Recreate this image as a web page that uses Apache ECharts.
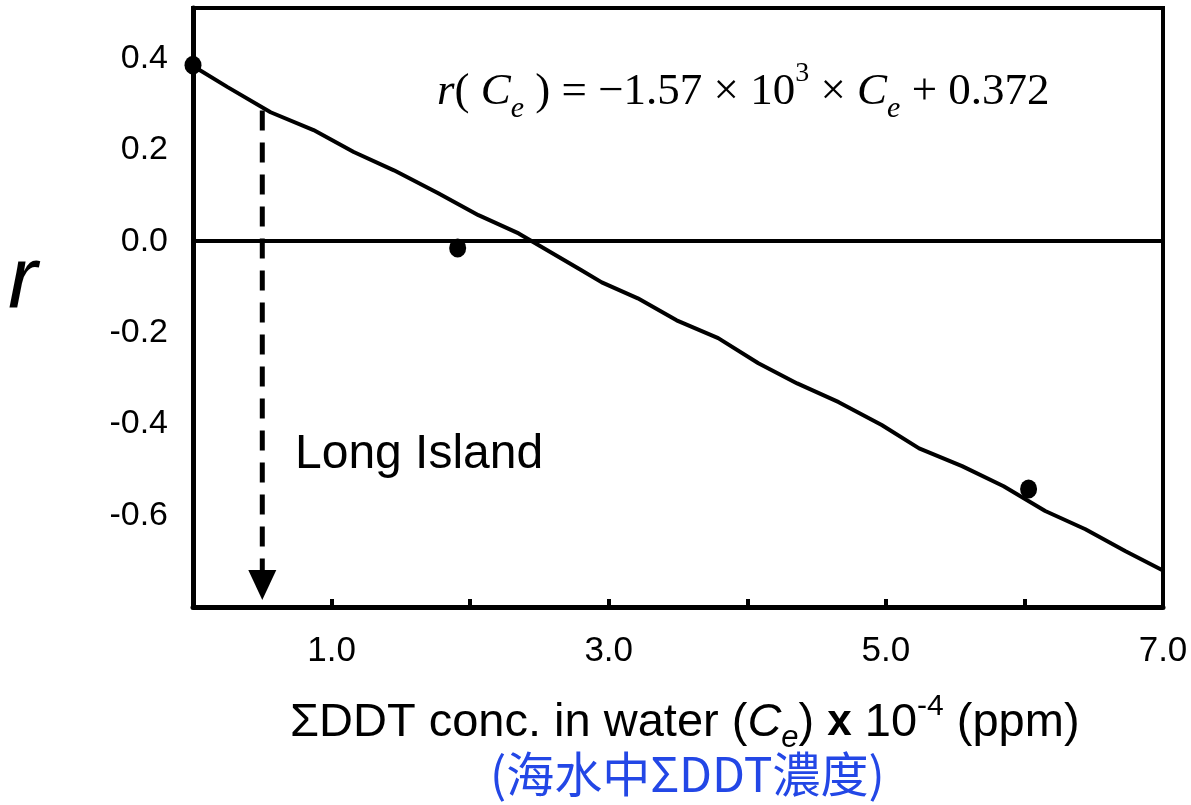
<!DOCTYPE html>
<html style="height: 100%;width: 100%;">
<head>
  <meta charset="UTF-8">
  <title>r vs DDT</title>
</head>
<body style="height: 100%;width: 100%;margin: 0;background: #fff;">
  <div id="main_chart" style="width: 1191px;height: 805px;"></div>

<script src="https://cdn.jsdelivr.net/npm/echarts@6/dist/echarts.min.js"></script>
<script>
// 拟合线（读图所得的折线顶点）
var fitX = [0, 0.25, 0.56, 0.87, 1.16, 1.45, 1.77, 2.06, 2.35, 2.80, 2.95, 3.21, 3.49, 3.79, 4.08, 4.36, 4.66, 4.97, 5.24, 5.55, 5.85, 6.15, 6.44, 6.73, 7.0];
var fitY = [0.383, 0.337, 0.282, 0.243, 0.195, 0.155, 0.105, 0.057, 0.017, -0.063, -0.09, -0.125, -0.173, -0.212, -0.267, -0.311, -0.352, -0.402, -0.453, -0.492, -0.536, -0.59, -0.63, -0.678, -0.72];
// 观测点
var obsX = [0, 1.91, 6.03];
var obsY = [0.385, -0.015, -0.542];
// 刻度标签
var xTickLabels = [1, 3, 5, 7];
var yTickLabels = [0.4, 0.2, 0.0, -0.2, -0.4, -0.6];
// Long Island 虚线箭头
var arrowX = 0.5;
var arrowTop = 0.286;
var arrowEnd = -0.752;

var fitData = fitX.map(function(x, i){ return [x, fitY[i]]; });
var obsData = obsX.map(function(x, i){ return [x, obsY[i]]; });

var font = "'Liberation Sans', Arial, sans-serif";
var serif = "'Liberation Serif', 'Times New Roman', serif";

var option = {
    animation: false,
    grid: {
        left: 193, right: 28, top: 8, bottom: 198,
        show: true, borderColor: '#000', borderWidth: 4
    },
    xAxis: {
        type: 'value', min: 0, max: 7, interval: 1,
        axisLine: { onZero: false, lineStyle: { color: '#000', width: 5 } },
        axisTick: { inside: true, length: 8, lineStyle: { color: '#000', width: 4 } },
        splitLine: { show: false },
        axisLabel: {
            margin: 27, color: '#000', fontSize: 35, fontFamily: font,
            formatter: function(v){
                return xTickLabels.indexOf(Math.round(v)) >= 0 && Math.abs(v - Math.round(v)) < 1e-6 ? v.toFixed(1) : '';
            }
        }
    },
    yAxis: {
        type: 'value', min: -0.8, max: 0.51, interval: 0.2,
        axisLine: { lineStyle: { color: '#000', width: 5 } },
        axisTick: { show: false },
        splitLine: { show: false },
        axisLabel: {
            margin: 25, color: '#000', fontSize: 34, fontFamily: font,
            padding: [6, 0, 0, 0],
            formatter: function(v){
                for (var i = 0; i < yTickLabels.length; i++) {
                    if (Math.abs(v - yTickLabels[i]) < 1e-6) return yTickLabels[i].toFixed(1);
                }
                return '';
            }
        }
    },
    series: [
        {
            type: 'line', data: fitData, symbol: 'none', z: 3,
            lineStyle: { color: '#000', width: 4 },
            markLine: {
                silent: true, symbol: 'none', label: { show: false },
                lineStyle: { color: '#000', width: 4, type: 'solid' },
                data: [{ yAxis: 0 }]
            }
        },
        {
            type: 'line', data: [[arrowX, arrowTop], [arrowX, arrowEnd]], symbol: 'none', z: 2,
            lineStyle: { color: '#000', width: 5, type: [20, 12] },
            markLine: {
                silent: true, symbol: ['none', 'triangle'], symbolSize: [28, 30],
                label: { show: false },
                lineStyle: { color: '#000', width: 0, opacity: 1 },
                data: [[{ coord: [arrowX, arrowEnd + 0.01] }, { coord: [arrowX, arrowEnd] }]]
            }
        },
        {
            type: 'scatter', data: obsData, symbol: 'circle', symbolSize: [17, 19], z: 4,
            itemStyle: { color: '#000', opacity: 1 }
        }
    ],
    graphic: [
        {
            type: 'text', left: 8, top: 240,
            style: { text: 'r', font: 'italic 88px ' + font, fill: '#000' }
        },
        {
            type: 'text', left: 437, top: 60,
            style: {
                text: '{i|r}{n|( }{i|C}{sub|e}{n| ) = −1.57 × 10}{sup|3}{n| × }{i|C}{sub|e}{n| + 0.372}',
                rich: {
                    n: { fontFamily: serif, fontSize: 45, lineHeight: 64, verticalAlign: 'middle', fill: '#000' },
                    i: { fontFamily: serif, fontSize: 45, fontStyle: 'italic', lineHeight: 64, verticalAlign: 'middle', fill: '#000' },
                    sub: { fontFamily: serif, fontSize: 30, fontStyle: 'italic', lineHeight: 64, verticalAlign: 'bottom', fill: '#000' },
                    sup: { fontFamily: serif, fontSize: 28, lineHeight: 64, verticalAlign: 'top', fill: '#000' }
                }
            }
        },
        {
            type: 'text', left: 295, top: 431,
            style: { text: 'Long Island', font: '48px ' + font, fill: '#000' }
        },
        {
            type: 'text', left: 290, top: 692,
            style: {
                text: '{n|ΣDDT conc. in water (}{i|C}{sub|e}{n|) }{b|x}{n| 10}{sup|-4}{n| (ppm)}',
                rich: {
                    n: { fontFamily: font, fontSize: 47, lineHeight: 62, verticalAlign: 'middle', fill: '#000' },
                    i: { fontFamily: font, fontSize: 47, fontStyle: 'italic', lineHeight: 62, verticalAlign: 'middle', fill: '#000' },
                    b: { fontFamily: font, fontSize: 44, fontWeight: 'bold', lineHeight: 62, verticalAlign: 'middle', fill: '#000' },
                    sub: { fontFamily: font, fontSize: 31, fontStyle: 'italic', lineHeight: 62, verticalAlign: 'bottom', fill: '#000' },
                    sup: { fontFamily: font, fontSize: 30, lineHeight: 62, verticalAlign: 'top', fill: '#000' }
                }
            }
        },
        {
            type: 'text', left: 490, top: 750,
            style: { text: '(海水中ΣDDT濃度)', font: "48px 'Noto Sans CJK TC', 'Noto Sans', sans-serif", fill: '#2347e6' }
        }
    ]
};

var chart = echarts.init(document.getElementById('main_chart'));
chart.setOption(option);
</script>
</body>
</html>
